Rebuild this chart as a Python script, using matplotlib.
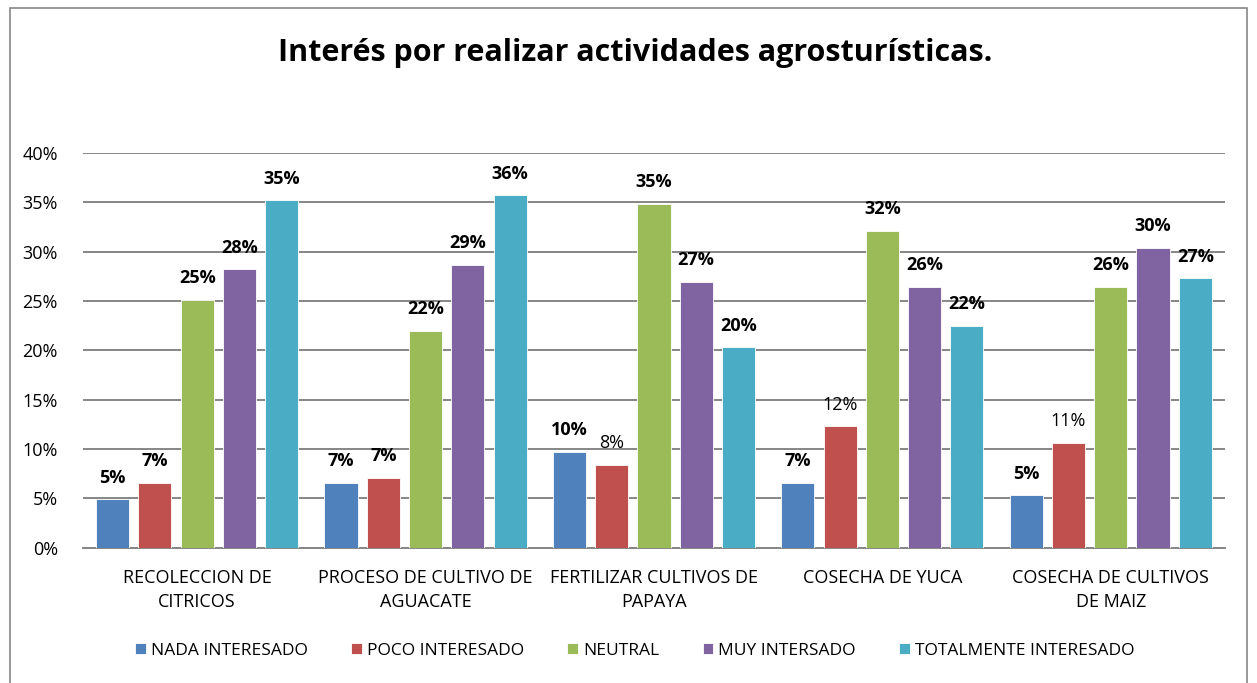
# Interés por realizar actividades agroturísticas - grouped bar chart
import matplotlib.pyplot as plt
from matplotlib.patches import Rectangle
import numpy as np

plt.rcParams['font.family'] = ['Open Sans', 'DejaVu Sans']

categories = ["RECOLECCION DE\nCITRICOS", "PROCESO DE CULTIVO DE\nAGUACATE",
              "FERTILIZAR CULTIVOS DE\nPAPAYA", "COSECHA DE YUCA",
              "COSECHA DE CULTIVOS\nDE MAIZ"]
series = ["NADA INTERESADO", "POCO INTERESADO", "NEUTRAL", "MUY INTERSADO",
          "TOTALMENTE INTERESADO"]

nada = [4.9, 6.6, 9.7, 6.6, 5.3]
poco = [6.6, 7.1, 8.4, 12.3, 10.6]
neutral = [25.1, 22.0, 34.8, 32.1, 26.4]
muy = [28.2, 28.7, 26.9, 26.4, 30.4]
totalmente = [35.2, 35.7, 20.3, 22.5, 27.3]

# labels drawn in regular weight in the original
regular = {(1, 2), (1, 3), (1, 4)}

colors = ["#4F81BD", "#C0504D", "#9BBB59", "#8064A2", "#4BACC6"]
values = [nada, poco, neutral, muy, totalmente]

fig = plt.figure(figsize=(12.57, 6.83), dpi=100)
ax = fig.add_axes([0.066, 0.198, 0.9085, 0.578])

x = np.arange(len(categories))
pitch = 0.185
width = 0.145
for i, (name, vals) in enumerate(zip(series, values)):
    pos = x + (i - 2) * pitch
    ax.bar(pos, vals, width=width, color=colors[i], label=name, zorder=3,
           edgecolor='white', linewidth=0.6)
    for j, v in enumerate(vals):
        w = 'normal' if (i, j) in regular else 'bold'
        ax.text(pos[j], v + 1.3, "{:.0f}%".format(round(v)), ha='center', va='bottom',
                fontsize=13, fontweight=w, color='black')

ax.set_xlim(-0.5, len(categories) - 0.5)
ax.set_ylim(0, 40)
ax.set_yticks(range(0, 41, 5))
ax.set_yticklabels(["{}%".format(t) for t in range(0, 41, 5)], fontsize=13)
ax.yaxis.grid(True, color='#868686', linewidth=1.4, zorder=0)
ax.set_axisbelow(True)
for s in ['top', 'right', 'left']:
    ax.spines[s].set_visible(False)
ax.spines['bottom'].set_color('#868686')
ax.spines['bottom'].set_linewidth(1.4)
ax.tick_params(axis='y', length=0, pad=18)
ax.tick_params(axis='x', length=0, pad=15)
ax.set_xticks(x)
ax.set_xticklabels(categories, fontsize=13, linespacing=1.45)

fig.text(0.505, 0.922, "Interés por realizar actividades agrosturísticas.",
         ha='center', va='center', fontsize=22, fontweight='bold')

fig.legend(loc='center', bbox_to_anchor=(0.505, 0.047), ncol=5, frameon=False,
           fontsize=12.5, handlelength=0.6, handleheight=0.6, handletextpad=0.3,
           columnspacing=2.5)

fig.patches.append(Rectangle((0.008, -0.01), 0.984, 0.998, transform=fig.transFigure,
                             fill=False, edgecolor='#868686', linewidth=1.2))

fig.savefig("out.png", dpi=100)
